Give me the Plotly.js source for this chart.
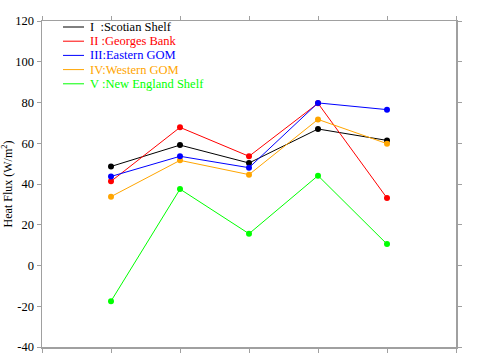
<!DOCTYPE html>
<html>
<head>
<meta charset="utf-8">
<script src="https://cdn.plot.ly/plotly-3.0.1.min.js"></script>
<style>html,body{margin:0;padding:0;background:#fff;}#chart{width:478px;height:355px;}</style>
</head>
<body>
<div id="chart"></div>
<script>
// Data
const xPositions = [1, 2, 3, 4, 5];
const seriesNames = ["I  :Scotian Shelf", "II :Georges Bank", "III:Eastern GOM", "IV:Western GOM", "V :New England Shelf"];
const seriesColors = ["#000000", "#ff0000", "#0000ff", "#ffa500", "#00ff00"];
const scotianShelf = [48.6, 59.1, 50.3, 67.0, 61.4];
const georgesBank = [41.3, 67.8, 53.6, 79.6, 33.1];
const easternGOM = [43.7, 53.6, 48.0, 79.8, 76.5];
const westernGOM = [33.8, 51.6, 44.6, 71.7, 59.8];
const newEnglandShelf = [-17.5, 37.5, 15.6, 44.1, 10.5];
const yTicks = [-40, -20, 0, 20, 40, 60, 80, 100, 120];

const allSeries = [scotianShelf, georgesBank, easternGOM, westernGOM, newEnglandShelf];
const drawOrder = [0, 1, 3, 4, 2];

const traces = drawOrder.map(i => ({
  x: xPositions, y: allSeries[i], type: 'scatter', mode: 'lines+markers',
  line: {color: seriesColors[i], width: 1},
  marker: {color: seriesColors[i], size: 6},
  showlegend: false, hoverinfo: 'skip'
}));

// Manual legend (paper coordinates)
const shapes = [];
const annotations = [];
const legTop = 27, legStep = 14.2;
seriesNames.forEach((n, i) => {
  const ypx = legTop + i * legStep;
  const yp = 1 - (ypx - 21) / 326;
  shapes.push({type: 'line', xref: 'paper', yref: 'paper',
    x0: (63 - 42) / 414, x1: (84 - 42) / 414, y0: yp, y1: yp,
    line: {color: seriesColors[i], width: 1}});
  annotations.push({xref: 'paper', yref: 'paper', x: (88 - 42) / 414, y: yp,
    xanchor: 'left', yanchor: 'middle', showarrow: false, text: n,
    font: {family: 'Liberation Serif, Times New Roman, serif', size: 12.5, color: seriesColors[i]}});
});

const axisCommon = {
  showgrid: false, zeroline: false, showline: true, linecolor: '#a0a0a0', linewidth: 1.5,
  ticks: 'outside', ticklen: 4, tickcolor: '#a0a0a0', tickwidth: 1, mirror: 'ticks'
};

const layout = {
  width: 478, height: 355,
  margin: {l: 42, r: 22, t: 21, b: 8},
  paper_bgcolor: '#fff', plot_bgcolor: '#fff',
  font: {family: 'Liberation Serif, Times New Roman, serif', size: 12, color: '#000'},
  xaxis: Object.assign({}, axisCommon, {range: [0, 6], tickvals: [0, 1, 2, 3, 4, 5, 6], showticklabels: false}),
  yaxis: Object.assign({}, axisCommon, {range: [-40, 120], tickvals: yTicks, ticktext: yTicks.map(String),
    tickfont: {family: 'Liberation Serif, Times New Roman, serif', size: 12.5, color: '#000'},
    title: {text: 'Heat Flux (W/m<sup>2</sup>)', standoff: 4,
      font: {family: 'Liberation Serif, Times New Roman, serif', size: 12, color: '#000'}}}),
  shapes: shapes, annotations: annotations, showlegend: false
};

Plotly.newPlot('chart', traces, layout, {displayModeBar: false, staticPlot: true});
</script>
</body>
</html>
